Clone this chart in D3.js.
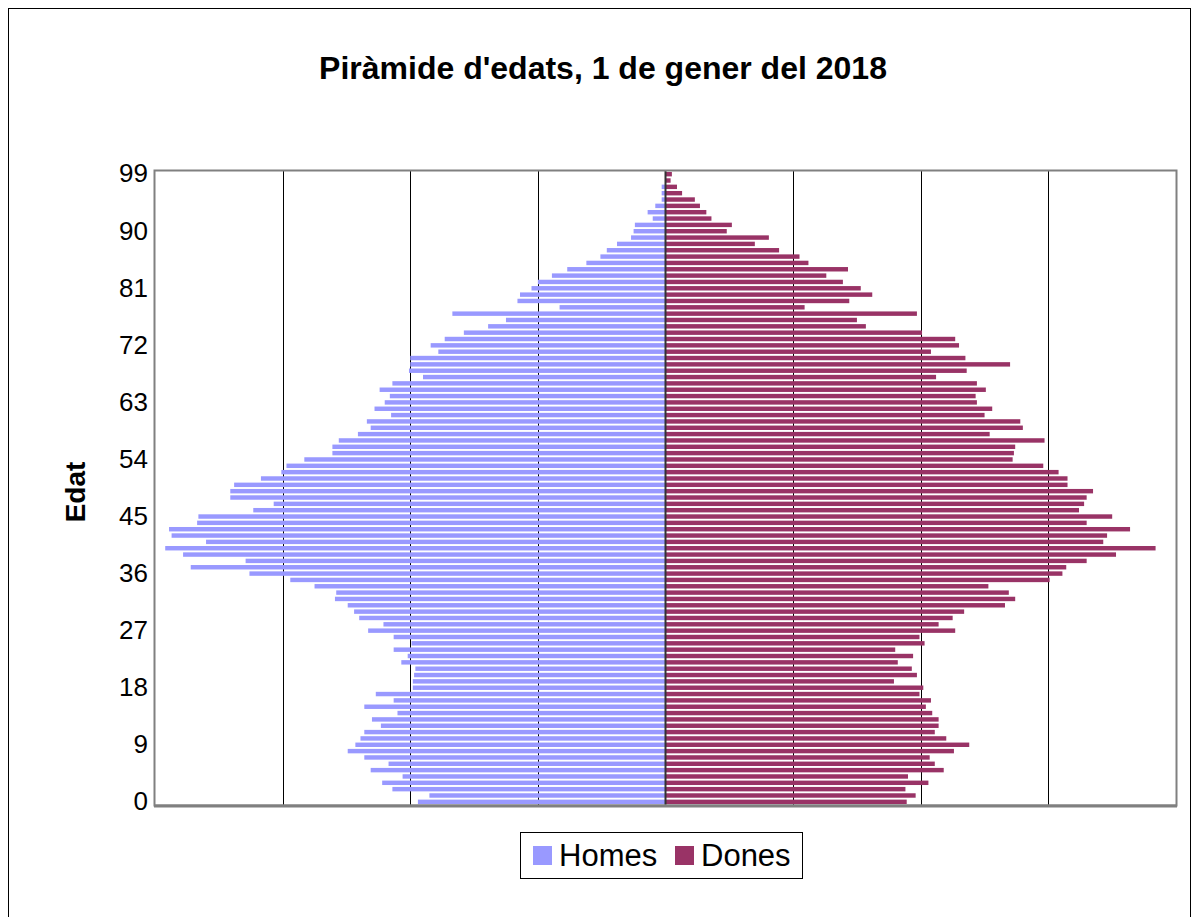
<!DOCTYPE html>
<html>
<head>
<meta charset="utf-8">
<script src="https://cdn.jsdelivr.net/npm/d3@7"></script>
<style>
  html, body { margin: 0; padding: 0; background: #fff; }
  svg { display: block; font-family: "Liberation Sans", Arial, sans-serif; }
</style>
</head>
<body>
<svg id="chart" width="1192" height="917"></svg>
<script>
// ---- data (ages 0..99) ----
const ages = d3.range(0, 100);
const homes = [194,185,214,222,206,231,217,236,249,243,
               239,236,223,230,210,236,213,227,198,198,
               197,196,207,202,213,199,213,233,221,240,
               244,249,259,258,275,294,326,372,329,378,
               392,360,387,389,367,366,323,307,341,341,
               338,317,301,297,283,261,261,256,241,231,
               234,215,228,220,216,224,214,190,201,200,
               200,178,184,173,158,139,125,167,83,116,
               114,105,100,89,77,62,51,46,38,27,
               25,24,10,14,8,3,3,3,0,0];
const dones = [189,196,188,206,190,218,211,207,226,238,
               220,211,214,214,209,204,208,199,202,179,
               197,193,182,194,180,203,199,227,214,225,
               234,266,274,269,253,301,311,314,330,353,
               384,343,346,364,330,350,324,328,330,335,
               315,315,308,296,272,273,274,297,254,280,
               278,250,256,244,243,251,244,212,236,270,
               235,208,230,227,201,157,150,197,109,144,
               162,153,139,126,143,112,105,89,70,81,
               48,52,36,32,27,23,13,9,4,5];
const tickAges = [0, 9, 18, 27, 36, 45, 54, 63, 72, 81, 90, 99];
const gridValues = [-300, -200, -100, 100, 200, 300];
const seriesNames = ["Homes", "Dones"];
const seriesColors = ["#9999FF", "#993366"];
const titleText = "Piràmide d'edats, 1 de gener del 2018";
const axisTitle = "Edat";

// ---- layout ----
const svg = d3.select("#chart");
const plot = { left: 155, right: 1176, top: 171, bottom: 805 };

const x = d3.scaleLinear().domain([-400, 400]).range([plot.left, plot.right]);
const y = d3.scaleBand().domain(ages.slice().reverse()).range([plot.top, plot.bottom]).paddingInner(0.3).paddingOuter(0.15);

// outer frame
svg.append("rect").attr("x", 8.5).attr("y", 8.5).attr("width", 1182).attr("height", 960)
  .attr("fill", "#fff").attr("stroke", "#000").attr("stroke-width", 1);

// title
svg.append("text").attr("x", 603).attr("y", 79).attr("text-anchor", "middle")
  .attr("font-size", 32).attr("font-weight", "bold").attr("fill", "#000").text(titleText);

// plot background
svg.append("rect").attr("x", plot.left).attr("y", plot.top)
  .attr("width", plot.right - plot.left).attr("height", plot.bottom - plot.top)
  .attr("fill", "#fff");

// gridlines
svg.append("g").selectAll("line").data(gridValues).join("line")
  .attr("x1", d => Math.round(x(d)) + 0.5).attr("x2", d => Math.round(x(d)) + 0.5)
  .attr("y1", plot.top).attr("y2", plot.bottom)
  .attr("stroke", "#000").attr("stroke-width", 1);

// bars
const bh = y.bandwidth();
svg.append("g").selectAll("rect").data(ages).join("rect")
  .attr("x", (d, i) => x(-homes[i])).attr("y", d => y(d))
  .attr("width", (d, i) => x(0) - x(-homes[i])).attr("height", bh)
  .attr("fill", seriesColors[0]);
svg.append("g").selectAll("rect").data(ages).join("rect")
  .attr("x", x(0)).attr("y", d => y(d))
  .attr("width", (d, i) => x(dones[i]) - x(0)).attr("height", bh)
  .attr("fill", seriesColors[1]);

// center axis line
svg.append("line").attr("x1", x(0)).attr("x2", x(0))
  .attr("y1", plot.top).attr("y2", plot.bottom)
  .attr("stroke", "#333").attr("stroke-width", 2);

// plot border (grey)
svg.append("rect").attr("x", plot.left - 0.5).attr("y", plot.top - 0.5)
  .attr("width", plot.right - plot.left + 1).attr("height", plot.bottom - plot.top + 1)
  .attr("fill", "none").attr("stroke", "#808080").attr("stroke-width", 2);
svg.append("line").attr("x1", plot.left - 1).attr("x2", plot.right + 1)
  .attr("y1", plot.bottom + 1).attr("y2", plot.bottom + 1)
  .attr("stroke", "#808080").attr("stroke-width", 3);

// y axis tick labels
const yAxis = d3.axisLeft(y).tickValues(tickAges).tickSize(0).tickPadding(7);
const gy = svg.append("g").attr("transform", `translate(${plot.left},0)`).call(yAxis);
gy.select(".domain").remove();
gy.selectAll("text").attr("font-size", 26).attr("fill", "#000")
  .attr("font-family", "Liberation Sans, Arial, sans-serif");

// y axis title
svg.append("text").attr("transform", "translate(85,492) rotate(-90)")
  .attr("text-anchor", "middle").attr("font-size", 28).attr("font-weight", "bold")
  .attr("fill", "#000").text(axisTitle);

// legend
const lg = svg.append("g");
lg.append("rect").attr("x", 520.5).attr("y", 832.5).attr("width", 282).attr("height", 46)
  .attr("fill", "#fff").attr("stroke", "#000").attr("stroke-width", 1);
const legX = [533, 675];
seriesNames.forEach((name, i) => {
  lg.append("rect").attr("x", legX[i]).attr("y", 846).attr("width", 19).attr("height", 19)
    .attr("fill", seriesColors[i]);
  lg.append("text").attr("x", legX[i] + 26).attr("y", 866).attr("font-size", 31)
    .attr("fill", "#000").text(name);
});
</script>
</body>
</html>
